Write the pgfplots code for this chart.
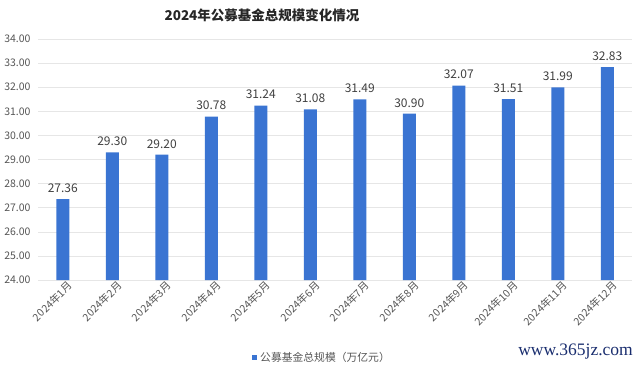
\documentclass[border=0pt]{standalone}
\usepackage{pgfplots}
\pgfplotsset{compat=1.18}
\usepackage{fontspec}
\setmainfont{Noto Sans CJK SC}
\newfontfamily\wmfont{Liberation Serif}
\definecolor{barblue}{RGB}{58,116,210}
\definecolor{tickgray}{RGB}{85,85,85}
\definecolor{gridgray}{RGB}{230,230,230}
\definecolor{wmblue}{RGB}{25,45,110}
\begin{document}
\begin{tikzpicture}[x=1bp,y=1bp]
\useasboundingbox (0,0) rectangle (640,365);
\begin{axis}[
  at={(38bp,85bp)}, anchor=south west,
  scale only axis, width=594bp, height=241bp,
  xmin=0.5, xmax=12.5, ymin=24, ymax=34,
  ytick={24,25,...,34},
  xtick={1,...,12},
  xticklabels={2024年1月,2024年2月,2024年3月,2024年4月,2024年5月,2024年6月,2024年7月,2024年8月,2024年9月,2024年10月,2024年11月,2024年12月},
  xticklabel style={rotate=45, anchor=north east, font=\fontsize{10.5bp}{12bp}\selectfont, text=tickgray, inner sep=1bp, xshift=4bp, yshift=-2bp},
  major x tick style={draw=none},
  extra x ticks={0.5,1.5,...,12.5},
  extra x tick labels={},
  extra x tick style={tick style={draw=gridgray, line width=0.8pt}, major tick length=5bp, tick align=outside, grid=none},
  yticklabel style={font=\fontsize{10.5bp}{12bp}\selectfont, text=tickgray, xshift=-4bp},
  /pgf/number format/assume math mode=true,
  yticklabel={\pgfmathprintnumber[fixed,fixed zerofill,precision=2]{\tick}},
  ymajorgrids, grid style={draw=gridgray, line width=0.6pt},
  major y tick style={draw=none},
  axis line style={draw=none},
  axis x line*=bottom, axis y line*=left,
  x axis line style={draw=gridgray, line width=0.8pt},
  y axis line style={draw=none},
  clip=false,
  nodes near coords,
  every node near coord/.append style={font=\fontsize{12bp}{14bp}\selectfont, text=black!75, yshift=3bp},
  point meta=explicit symbolic,
]
\addplot[ybar, bar width=13bp, fill=barblue, draw=none] coordinates {
  (1,27.36) [27.36]
  (2,29.30) [29.30]
  (3,29.20) [29.20]
  (4,30.78) [30.78]
  (5,31.24) [31.24]
  (6,31.08) [31.08]
  (7,31.49) [31.49]
  (8,30.90) [30.90]
  (9,32.07) [32.07]
  (10,31.51) [31.51]
  (11,31.99) [31.99]
  (12,32.83) [32.83]
};
\end{axis}
\node[font=\bfseries\fontsize{13.5bp}{15bp}\selectfont, text=black!85] at (262,350) {2024年公募基金总规模变化情况};
\fill[barblue] (251.5,5) rectangle (257,10.5);
\node[anchor=west, font=\fontsize{10.8bp}{12bp}\selectfont, text=tickgray, inner sep=0pt] at (260,8) {公募基金总规模（万亿元）};
\node[anchor=east, font=\wmfont\fontsize{17.5bp}{19bp}\selectfont, text=wmblue, inner sep=0pt] at (633,13) {www.365jz.com};
\end{tikzpicture}
\end{document}
